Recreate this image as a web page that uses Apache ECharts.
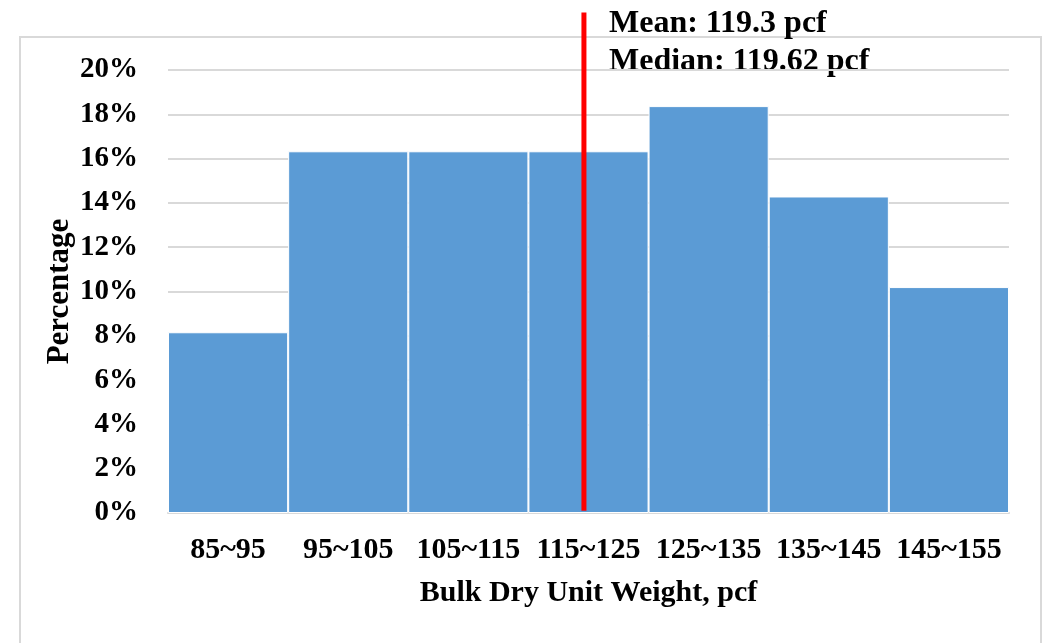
<!DOCTYPE html>
<html>
<head>
<meta charset="utf-8">
<title>Bulk Dry Unit Weight Histogram</title>
<script src="https://cdn.jsdelivr.net/npm/echarts@6/dist/echarts.min.js"></script>
<style>
  html, body { margin: 0; padding: 0; background: #ffffff; }
  #chart { width: 1046px; height: 643px; }
</style>
</head>
<body>
<div id="chart"></div>
<script>
// Bin labels (pcf ranges) and share of samples in each bin (%)
const categories = ['85~95', '95~105', '105~115', '115~125', '125~135', '135~145', '145~155'];
const percentages = [8.16, 16.33, 16.33, 16.33, 18.37, 14.29, 10.20];

// Summary statistics (pcf)
const meanVal = 119.3;
const medianVal = 119.62;

// Range covered by the bins, used for the continuous overlay axis
const binStart = 85;
const binEnd = 155;

// Y tick settings (%)
const yMin = 0;
const yMax = 20;
const yStep = 2;

const FONT = "'Liberation Serif', 'Times New Roman', serif";
const gridColor = '#d9d9d9';

const chart = echarts.init(document.getElementById('chart'), null, { renderer: 'canvas' });

chart.setOption({
  animation: false,
  backgroundColor: '#ffffff',
  grid: { left: 168, right: 37, top: 70, bottom: 130, containLabel: false },
  xAxis: [
    {
      type: 'category',
      data: categories,
      boundaryGap: true,
      axisTick: { show: false },
      axisLine: { show: true, lineStyle: { color: gridColor, width: 2 } },
      axisLabel: {
        margin: 22,
        color: '#000',
        fontFamily: FONT,
        fontWeight: 'bold',
        fontSize: 30,
        interval: 0
      },
      name: 'Bulk Dry Unit Weight, pcf',
      nameLocation: 'middle',
      nameGap: 65,
      nameMoveOverlap: false,
      nameTextStyle: { color: '#000', fontFamily: FONT, fontWeight: 'bold', fontSize: 30 }
    },
    {
      // continuous pcf scale for the statistic marker
      type: 'value',
      min: binStart,
      max: binEnd,
      show: false,
      position: 'bottom'
    }
  ],
  yAxis: {
    type: 'value',
    min: yMin,
    max: yMax,
    interval: yStep,
    axisLine: { show: false },
    axisTick: { show: false },
    splitLine: { show: true, lineStyle: { color: gridColor, width: 2 } },
    axisLabel: {
      margin: 30,
      color: '#000',
      fontFamily: FONT,
      fontWeight: 'bold',
      fontSize: 29,
      formatter: v => v + '%'
    },
    name: 'Percentage',
    nameLocation: 'middle',
    nameGap: 93,
    nameMoveOverlap: false,
    nameTextStyle: { color: '#000', fontFamily: FONT, fontWeight: 'bold', fontSize: 31 }
  },
  series: [
    {
      type: 'bar',
      xAxisIndex: 0,
      data: percentages,
      barCategoryGap: '0%',
      itemStyle: { color: '#5b9bd5', borderColor: '#ffffff', borderWidth: 1 }
    },
    {
      type: 'line',
      xAxisIndex: 1,
      data: [[medianVal, 0.1], [medianVal, 22.6]],
      clip: false,
      symbol: 'none',
      lineStyle: { color: '#ff0000', width: 5 },
      z: 5
    }
  ],
  graphic: [
    {
      type: 'rect',
      shape: { x: 20, y: 37, width: 1021, height: 630 },
      style: { fill: 'none', stroke: gridColor, lineWidth: 2 },
      silent: true,
      z: -1
    },
    {
      type: 'text',
      left: 609,
      top: 8,
      style: {
        text: 'Mean: ' + meanVal + ' pcf',
        fill: '#000',
        font: 'bold 32px ' + FONT
      }
    },
    {
      type: 'text',
      left: 609,
      top: 46,
      style: {
        text: 'Median: ' + medianVal + ' pcf',
        fill: '#000',
        font: 'bold 32px ' + FONT
      }
    }
  ]
});
</script>
</body>
</html>
